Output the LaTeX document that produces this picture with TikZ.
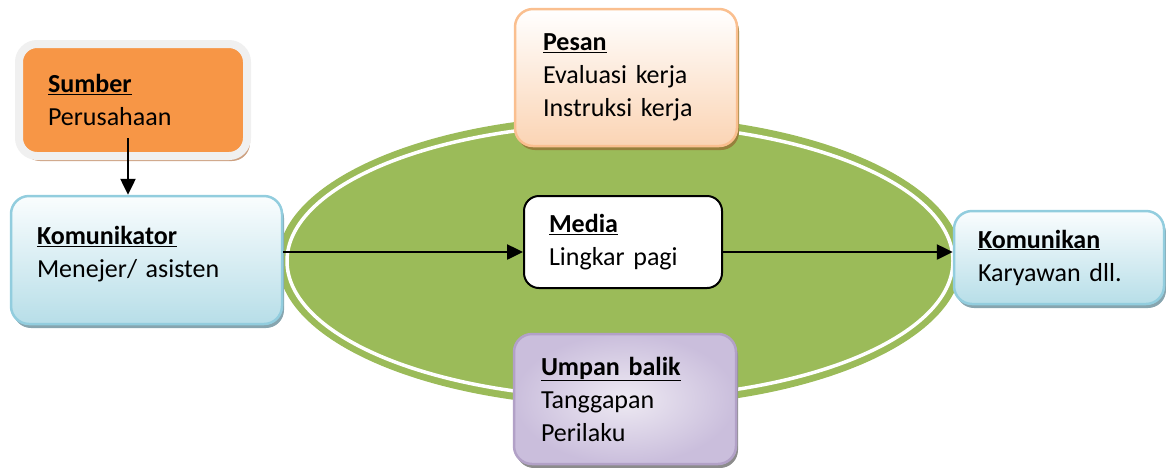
\documentclass[tikz,border=0pt]{standalone}
\usepackage{fontspec}
\setmainfont{Carlito}[WordSpace=0.8]
\usetikzlibrary{arrows.meta, shadows}
\definecolor{sumberorange}{RGB}{247,150,70}
\definecolor{framegray}{RGB}{240,240,240}
\definecolor{sumbershadow}{RGB}{205,160,128}
\definecolor{ovalgreen}{RGB}{155,187,89}
\definecolor{bluetop}{RGB}{250,253,254}
\definecolor{bluebottom}{RGB}{183,222,232}
\definecolor{blueline}{RGB}{146,205,222}
\definecolor{blueshadow}{RGB}{135,165,175}
\definecolor{peachbottom}{RGB}{251,212,180}
\definecolor{peachline}{RGB}{250,191,143}
\definecolor{peachshadow}{RGB}{150,128,60}
\definecolor{lilacin}{RGB}{238,234,243}
\definecolor{lilacout}{RGB}{202,190,220}
\definecolor{lilacline}{RGB}{178,161,199}
\definecolor{lilacshadow}{RGB}{140,140,140}

\begin{document}
\begin{tikzpicture}[x=1pt, y=-1pt,
		>={Triangle[length=16pt,width=15pt]},   %Pfeilspitzen
		box/.style={rounded corners=18pt, align=left, inner ysep=0pt,
			font=\fontsize{26}{33}\selectfont},
		arr/.style={->, line width=2.5pt}]
		%Rahmen
		\useasboundingbox (0,0) rectangle (1166,467);
		%Ellipse
		\fill[ovalgreen] (620,261) ellipse (342 and 146);
		\draw[white, line width=3.5pt] (620,261) ellipse (333 and 137);
		%Kaesten
		\node[box, draw=framegray, line width=8pt, fill=sumberorange,
			drop shadow={shadow xshift=3pt, shadow yshift=-5pt, fill=sumbershadow, opacity=1},
			inner xsep=29pt, text width=170pt, minimum height=112pt] (sumber) at (133,100)
			{\underline{\textbf{Sumber}}\\Perusahaan};
		\node[box, draw=blueline, line width=2.5pt, top color=bluetop, bottom color=bluebottom,
			drop shadow={shadow xshift=2pt, shadow yshift=-4pt, fill=blueshadow, opacity=1},
			inner xsep=26pt, text width=219pt, minimum height=128pt] (komunikator) at (146.5,260)
			{\underline{\textbf{Komunikator}}\\Menejer/ asisten\\[-16pt]\mbox{}};
		\node[box, draw=peachline, line width=2.5pt, top color=white, bottom color=peachbottom,
			drop shadow={shadow xshift=2pt, shadow yshift=-4pt, fill=peachshadow, opacity=1},
			inner xsep=28pt, text width=166pt, minimum height=137pt] (pesan) at (626,77.5)
			{\underline{\textbf{Pesan}}\\Evaluasi kerja\\Instruksi kerja};
		\node[box, draw=black, line width=2pt, fill=white, rounded corners=15pt,
			inner xsep=25pt, text width=148pt, minimum height=92pt] (media) at (623,242)
			{\underline{\textbf{Media}}\\Lingkar pagi};
		\node[box, draw=blueline, line width=2.5pt, top color=bluetop, bottom color=bluebottom,
			drop shadow={shadow xshift=2pt, shadow yshift=-4pt, fill=blueshadow, opacity=1},
			inner xsep=24pt, text width=162pt, minimum height=93pt] (komunikan) at (1059,257.5)
			{\underline{\textbf{Komunikan}}\\Karyawan dll.};
		\node[box, draw=lilacline, line width=2.5pt, inner color=lilacin, outer color=lilacout,
			drop shadow={shadow xshift=2pt, shadow yshift=-4pt, fill=lilacshadow, opacity=1},
			inner xsep=27pt, text width=168pt, minimum height=130pt] (umpan) at (625,399)
			{\underline{\textbf{Umpan balik}}\\Tanggapan\\Perilaku};
		%Pfeile
		\coordinate (achse) at (0,252);
		\draw[arr] ([xshift=-5pt,yshift=22pt]sumber.south) -- ([xshift=-5pt]sumber.south |- komunikator.north);
		\draw[arr] (komunikator.east |- achse) -- (media.west |- achse);
		\draw[arr] (media.east |- achse) -- (komunikan.west |- achse);
	\end{tikzpicture}
\end{document}
